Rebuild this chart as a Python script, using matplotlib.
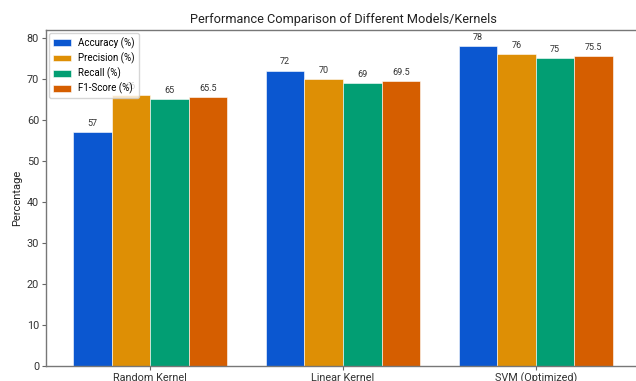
import matplotlib
matplotlib.use("Agg")
import matplotlib.pyplot as plt
import numpy as np

plt.rcParams['font.family'] = ['Roboto', 'DejaVu Sans']

categories = ["Random Kernel", "Linear Kernel", "SVM (Optimized)"]
series_names = ["Accuracy (%)", "Precision (%)", "Recall (%)", "F1-Score (%)"]
accuracy = [57, 72, 78]
precision = [66, 70, 76]
recall = [65, 69, 75]
f1 = [65.5, 69.5, 75.5]
series = [accuracy, precision, recall, f1]
colors = ["#0b57d0", "#de8f05", "#029e73", "#d55e00"]

W, H = 636, 381
fig = plt.figure(figsize=(W/100, H/100), dpi=100)
ax = fig.add_axes([46/W, (H-366)/H, (640-46)/W, (366-30)/H])

x = np.arange(len(categories))
w = 0.2
for i, (name, vals, c) in enumerate(zip(series_names, series, colors)):
    bars = ax.bar(x + (i - 1.5) * w, vals, w, label=name, color=c,
                  edgecolor='white', linewidth=0.4, zorder=2)
    ax.bar_label(bars, labels=[f"{v:g}" for v in vals], padding=3, fontsize=6.5, color='#333333')

ax.set_xlim(-0.54, 2.54)
ax.set_ylim(0, 81.9)
ax.set_xticks(x)
ax.set_xticklabels(categories, fontsize=7.8)
ax.set_yticks(np.arange(0, 81, 10))
ax.tick_params(axis='y', labelsize=7.8, colors='#333333', length=3, color='#666666', pad=2)
ax.tick_params(axis='x', colors='#333333', length=3, color='#666666', pad=2)
ax.set_ylabel("Percentage", fontsize=8, color='#222222', labelpad=3)
ax.set_title("Performance Comparison of Different Models/Kernels", fontsize=9.2, color='#222222', pad=5)
for s in ax.spines.values():
    s.set_color('#777777')
    s.set_linewidth(1.0)

leg = ax.legend(loc='upper left', fontsize=7, frameon=True, handlelength=1.85,
                handletextpad=0.7, borderaxespad=0.35, labelspacing=0.38, borderpad=0.4)
leg.set_zorder(5)
leg.get_frame().set_edgecolor('#cccccc')

fig.savefig("out.png", dpi=100)
